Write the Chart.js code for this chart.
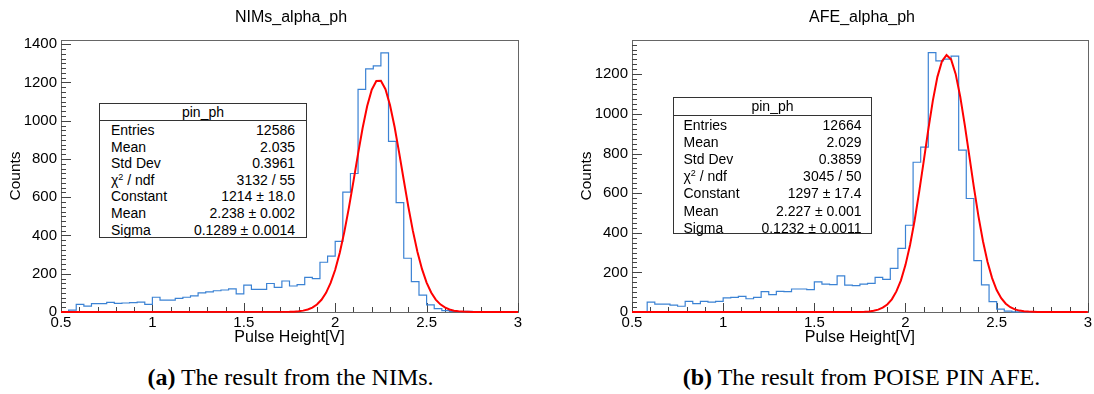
<!DOCTYPE html>
<html>
<head>
<meta charset="utf-8">
<script src="https://cdn.jsdelivr.net/npm/chart.js@4/dist/chart.umd.min.js"></script>
<style>
body { margin: 0; background: #fff; width: 1094px; height: 394px; overflow: hidden; position: relative; font-family: "Liberation Sans", Arial, sans-serif; }
canvas { position: absolute; top: 0; }
#nimsChart { left: 0; }
#afeChart { left: 547px; }
.title { position: absolute; top: 7px; width: 300px; text-align: center; font-size: 16px; line-height: 20px; color: #000; }
.stats { position: absolute; border: 1px solid #333; background: #fff; font-size: 14px; color: #000; box-sizing: border-box; }
.stats .head { text-align: center; border-bottom: 1px solid #333; }
.stats .row { display: flex; justify-content: space-between; }
.stats .sq { font-size: 9px; position: relative; top: -5px; line-height: 0; }
.caption { position: absolute; top: 363px; width: 547px; text-align: center; font-family: "Liberation Serif", "Times New Roman", serif; font-size: 24px; line-height: 28px; color: #000; }
</style>
</head>
<body>
<canvas id="nimsChart" width="547" height="350"></canvas>
<canvas id="afeChart" width="547" height="350"></canvas>

<div class="title" style="left:141px;">NIMs_alpha_ph</div>
<div class="title" style="left:712px;">AFE_alpha_ph</div>

<div class="stats" style="left:99px; top:103px; width:208px; height:135px;">
  <div class="head" style="height:16px; line-height:16px;">pin_ph</div>
  <div style="padding:1px 11px 0 11px; line-height:16.6px;">
    <div class="row"><span>Entries</span><span>12586</span></div>
    <div class="row"><span>Mean</span><span>2.035</span></div>
    <div class="row"><span>Std Dev</span><span>0.3961</span></div>
    <div class="row"><span>&chi;<span class="sq">2</span> / ndf</span><span>3132 / 55</span></div>
    <div class="row"><span>Constant</span><span>1214 &plusmn; 18.0</span></div>
    <div class="row"><span>Mean</span><span>2.238 &plusmn; 0.002</span></div>
    <div class="row"><span>Sigma</span><span>0.1289 &plusmn; 0.0014</span></div>
  </div>
</div>

<div class="stats" style="left:673px; top:97px; width:199px; height:137px;">
  <div class="head" style="height:16.5px; line-height:16.5px;">pin_ph</div>
  <div style="padding:1px 9.5px 0 9.5px; line-height:17.2px;">
    <div class="row"><span>Entries</span><span>12664</span></div>
    <div class="row"><span>Mean</span><span>2.029</span></div>
    <div class="row"><span>Std Dev</span><span>0.3859</span></div>
    <div class="row"><span>&chi;<span class="sq">2</span> / ndf</span><span>3045 / 50</span></div>
    <div class="row"><span>Constant</span><span>1297 &plusmn; 17.4</span></div>
    <div class="row"><span>Mean</span><span>2.227 &plusmn; 0.001</span></div>
    <div class="row"><span>Sigma</span><span>0.1232 &plusmn; 0.0011</span></div>
  </div>
</div>

<div class="caption" style="left:17px;"><b>(a)</b> The result from the NIMs.</div>
<div class="caption" style="left:588px;"><b>(b)</b> The result from POISE PIN AFE.</div>

<script>
// histogram range (60 bins between binLow and binHigh)
const binLow = 0.5;
const binHigh = 3.0;

const nimsCounts = [
    0, 0, 10, 40, 31, 44, 44, 50, 45, 47,
    49, 52, 40, 77, 62, 62, 71, 77, 84, 100,
    105, 111, 115, 121, 95, 140, 118, 118, 149, 129,
    162, 136, 143, 181, 175, 260, 292, 369, 627, 724,
    1164, 1271, 1287, 1355, 892, 572, 281, 159, 88, 37,
    18, 7, 3, 2, 3, 0, 1, 0, 0, 0
];

const afeCounts = [
    0, 0, 0, 50, 40, 40, 35, 29, 54, 42,
    54, 50, 54, 71, 74, 79, 67, 74, 103, 88,
    104, 103, 116, 116, 113, 152, 141, 138, 182, 136,
    133, 141, 144, 175, 165, 220, 321, 438, 756, 832,
    1309, 1268, 1276, 1292, 817, 573, 259, 137, 52, 15,
    4, 1, 0, 0, 0, 0, 0, 0, 0, 0
];

// fit curves at these x positions
const fitX = [
    0.5, 1.75, 1.775, 1.8, 1.825, 1.85, 1.875, 1.9, 1.925, 1.95, 1.975,
    2.0, 2.025, 2.05, 2.075, 2.1, 2.125, 2.15, 2.175, 2.2, 2.225,
    2.25, 2.275, 2.3, 2.325, 2.35, 2.375, 2.4, 2.425, 2.45, 2.475,
    2.5, 2.525, 2.55, 2.575, 2.6, 2.625, 2.65, 2.675, 2.7, 2.725, 2.75, 3.0
];
const nimsFit = [
    0, 0.9, 1.9, 3.8, 7.2, 13, 23, 39, 64, 100, 152,
    221, 310, 419, 546, 684, 827, 962, 1077, 1162, 1208,
    1209, 1165, 1081, 967, 832, 690, 551, 424, 314, 224,
    154, 102, 65, 40, 24, 13, 7, 4, 2, 1, 0.5, 0
];
const afeFit = [
    0, 0.6, 1.5, 3, 6, 12, 22, 38, 64, 104, 160,
    238, 338, 462, 606, 762, 921, 1067, 1187, 1266, 1297,
    1275, 1202, 1088, 945, 788, 630, 484, 357, 252, 171,
    111, 70, 42, 24, 13, 7, 4, 2, 1, 0.4, 0.2, 0
];

const xTicks = [0.5, 1, 1.5, 2, 2.5, 3];
const nimsYTicks = [0, 200, 400, 600, 800, 1000, 1200, 1400];
const afeYTicks = [0, 200, 400, 600, 800, 1000, 1200];

Chart.defaults.font.family = '"Liberation Sans", Arial, sans-serif';
Chart.defaults.color = '#000';

function histPoints(counts) {
    const w = (binHigh - binLow) / counts.length;
    const pts = counts.map((c, i) => ({ x: binLow + i * w, y: c }));
    pts.push({ x: binHigh, y: counts[counts.length - 1] });
    return pts;
}

// ROOT style frame with inward ticks
const rootFrame = {
    id: 'rootFrame',
    beforeDatasetsDraw(chart) {
        const { ctx, chartArea: a, scales: { x, y } } = chart;
        ctx.save();
        ctx.lineWidth = 1;
        ctx.strokeStyle = '#666';
        ctx.strokeRect(Math.round(a.left) + 0.5, Math.round(a.top) + 0.5,
            Math.round(a.right - a.left), Math.round(a.bottom - a.top));
        ctx.strokeStyle = '#444';
        ctx.beginPath();
        for (let i = 0; i <= 25; i++) {
            const v = 0.5 + i * 0.1;
            const px = Math.round(x.getPixelForValue(v)) + 0.5;
            const len = i % 5 === 0 ? 9 : 5;
            ctx.moveTo(px, a.bottom);
            ctx.lineTo(px, a.bottom - len);
        }
        for (let v = 0; v <= y.max; v += 25) {
            const py = Math.round(y.getPixelForValue(v)) + 0.5;
            const len = v % 200 === 0 ? 10 : 5;
            ctx.moveTo(a.left, py);
            ctx.lineTo(a.left + len, py);
        }
        ctx.stroke();
        ctx.restore();
    }
};

function makeChart(id, counts, fit, yMax, yTicks, yWidth, yTitlePad, padRight) {
    return new Chart(document.getElementById(id), {
        type: 'line',
        data: {
            datasets: [
                {
                    data: fitX.map((v, i) => ({ x: v, y: fit[i] })),
                    borderColor: '#ff0000',
                    borderWidth: 2,
                    pointRadius: 0,
                    tension: 0,
                    fill: false,
                    clip: 2
                },
                {
                    data: histPoints(counts),
                    stepped: 'after',
                    borderColor: '#3b82d4',
                    borderWidth: 1.2,
                    pointRadius: 0,
                    fill: false,
                    clip: 1
                }
            ]
        },
        options: {
            animation: false,
            responsive: false,
            devicePixelRatio: 1,
            events: [],
            layout: { padding: { left: 0, right: padRight, top: 40, bottom: 0 } },
            plugins: {
                legend: { display: false },
                tooltip: { enabled: false },
                title: { display: false }
            },
            scales: {
                x: {
                    type: 'linear',
                    min: binLow,
                    max: binHigh,
                    grid: { display: false, drawTicks: false },
                    border: { display: false },
                    ticks: { padding: 2, font: { size: 15 }, maxRotation: 0, autoSkip: false, callback: v => String(v) },
                    afterBuildTicks: s => { s.ticks = xTicks.map(v => ({ value: v })); },
                    afterFit: s => { s.height = 38; },
                    title: { display: true, text: 'Pulse Height[V]', font: { size: 16 }, padding: { top: 0, bottom: 2.4 } }
                },
                y: {
                    type: 'linear',
                    min: 0,
                    max: yMax,
                    grid: { display: false, drawTicks: false },
                    border: { display: false },
                    ticks: { padding: 4, font: { size: 15 }, autoSkip: false, callback: v => String(v) },
                    afterBuildTicks: s => { s.ticks = yTicks.map(v => ({ value: v })); },
                    afterFit: s => { s.width = yWidth; },
                    title: { display: true, text: 'Counts', font: { size: 15.5 }, padding: { top: yTitlePad, bottom: 0 } }
                }
            }
        },
        plugins: [rootFrame]
    });
}

makeChart('nimsChart', nimsCounts, nimsFit, 1422, nimsYTicks, 61, 6.4, 29);
makeChart('afeChart', afeCounts, afeFit, 1373, afeYTicks, 85, 30.7, 4);
</script>
</body>
</html>
